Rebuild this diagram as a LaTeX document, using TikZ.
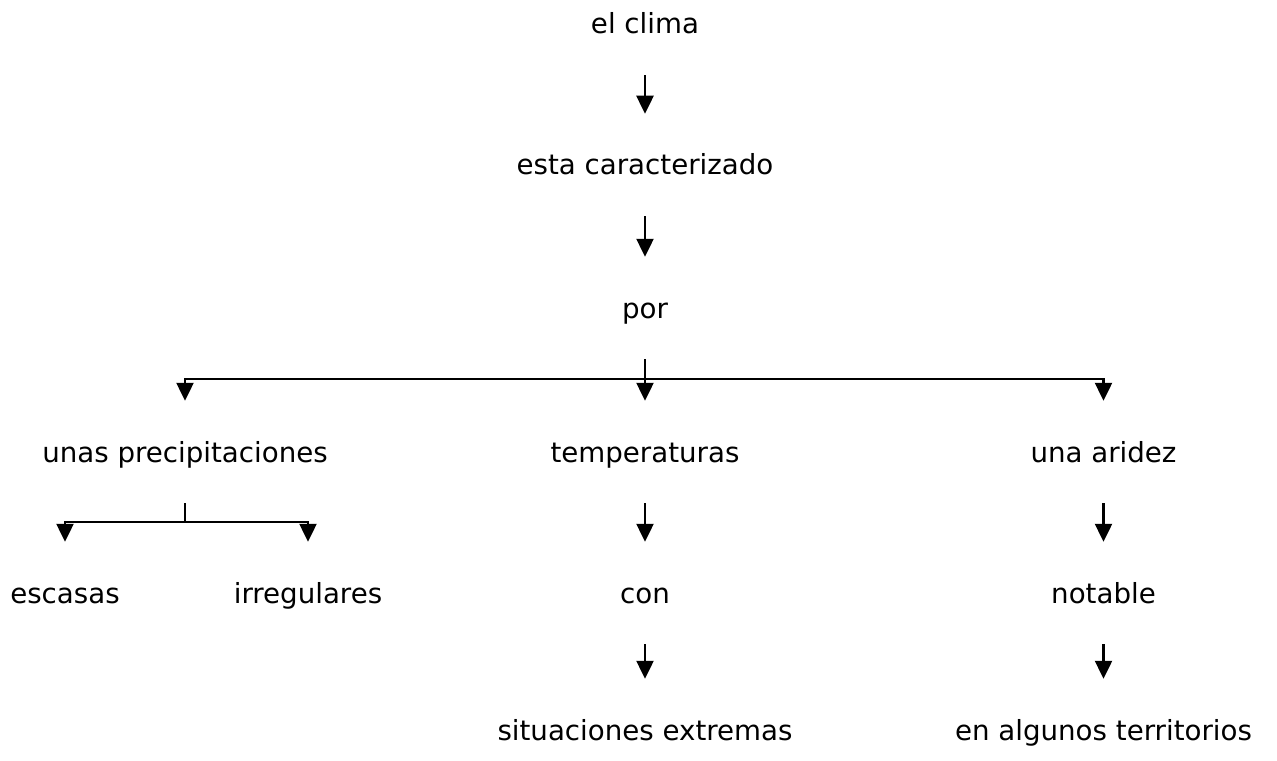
\documentclass[tikz,border=0pt]{standalone}
\usepackage{fontspec}
\setmainfont{DejaVu Sans}
\usetikzlibrary{arrows.meta}

\begin{document}
\begin{tikzpicture}[
  word/.style={anchor=base,inner sep=0pt,text height=1.2cm,text depth=0.8cm,font=\fontsize{15.75pt}{18pt}\selectfont},
  arr/.style={-{Triangle[width=0.34cm,length=0.36cm]}},
  line width=0.05cm]
\useasboundingbox (0,0) rectangle (25.54,15.2);

\node[word] (clima) at (12.9,14.52) {el clima};
\node[word] (esta) at (12.9,11.7) {esta caracterizado};
\node[word] (por) at (12.9,8.84) {por};
\node[word] (precip) at (3.7,5.96) {unas precipitaciones};
\node[word] (temp) at (12.9,5.96) {temperaturas};
\node[word] (arid) at (22.07,5.96) {una aridez};
\node[word] (escasas) at (1.3,3.14) {escasas};
\node[word] (irreg) at (6.16,3.14) {irregulares};
\node[word] (con) at (12.9,3.14) {con};
\node[word] (notable) at (22.07,3.14) {notable};
\node[word] (extremas) at (12.9,0.4) {situaciones extremas};
\node[word] (territ) at (22.07,0.4) {en algunos territorios};

\coordinate (fork) at (12.9,7.62);
\coordinate (subfork) at (3.7,4.76);

\draw[arr] (clima)--(esta);
\draw[arr] (esta)--(por);
\draw (por)--(fork);
\draw[arr] (fork)-|(precip);
\draw[arr] (fork)--(temp);
\draw[arr] (fork)-|(arid);
\draw (precip)--(subfork);
\draw[arr] (subfork)-|(escasas);
\draw[arr] (subfork)-|(irreg);
\draw[arr] (temp)--(con);
\draw[arr] (con)--(extremas);
\draw[arr] (arid)--(notable);
\draw[arr] (notable)--(territ);
\end{tikzpicture}
\end{document}
